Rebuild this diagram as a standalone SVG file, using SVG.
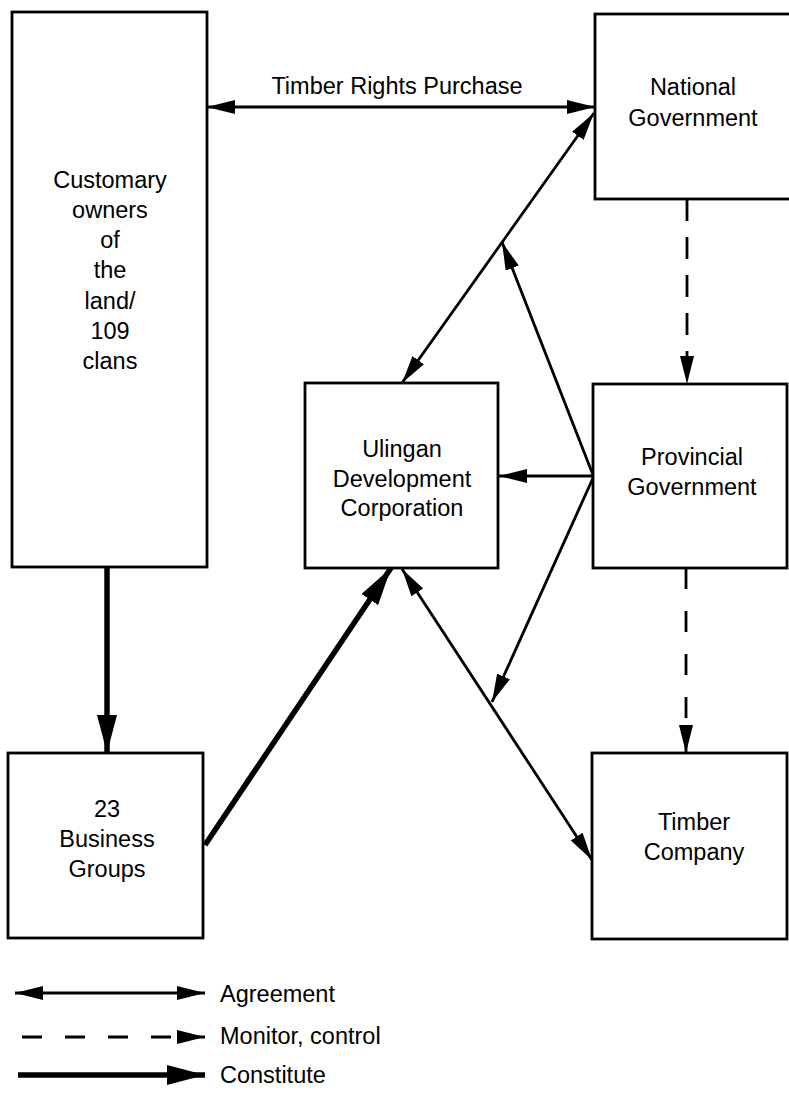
<svg xmlns="http://www.w3.org/2000/svg" width="789" height="1104" viewBox="0 0 789 1104">
<style>
  .box { fill: #fff; stroke: #000; stroke-width: 2.8; }
  .t { font-family: "Liberation Sans", Arial, Helvetica, sans-serif; font-size: 23.5px; fill: #000; text-anchor: middle; }
  .lt { font-family: "Liberation Sans", Arial, Helvetica, sans-serif; font-size: 23.5px; fill: #000; }
  .agr { stroke: #000; stroke-width: 2.8; fill: none; marker-end: url(#ah); }
  .both { marker-start: url(#ah); }
  .mon { stroke: #000; stroke-width: 2.8; fill: none; marker-end: url(#ah); }
  .con { stroke: #000; stroke-width: 5.5; fill: none; marker-end: url(#ahBig); }
</style>
<defs>
  <marker id="ah" markerUnits="userSpaceOnUse" markerWidth="29" markerHeight="15" refX="28" refY="7" orient="auto-start-reverse" viewBox="0 0 29 15">
    <path d="M0,0 L28,7 L0,14 Z" fill="#000"/>
  </marker>
  <marker id="ahBig" markerUnits="userSpaceOnUse" markerWidth="39" markerHeight="21" refX="38" refY="10" orient="auto-start-reverse" viewBox="0 0 39 21">
    <path d="M0,0 L38,10 L0,20 Z" fill="#000"/>
  </marker>
</defs>

<g id="customary">
  <rect class="box" x="12" y="12" width="195" height="555"/>
  <text class="t" x="110" y="188">Customary</text>
  <text class="t" x="110" y="218">owners</text>
  <text class="t" x="110" y="248">of</text>
  <text class="t" x="110" y="278">the</text>
  <text class="t" x="110" y="309">land/</text>
  <text class="t" x="110" y="339">109</text>
  <text class="t" x="110" y="369">clans</text>
</g>

<g id="national">
  <rect class="box" x="595" y="14" width="200" height="185"/>
  <text class="t" x="693" y="95">National</text>
  <text class="t" x="693" y="126">Government</text>
</g>

<g id="ulingan">
  <rect class="box" x="305" y="383" width="193" height="185"/>
  <text class="t" x="402" y="457">Ulingan</text>
  <text class="t" x="402" y="487">Development</text>
  <text class="t" x="402" y="516">Corporation</text>
</g>

<g id="provincial">
  <rect class="box" x="593" y="384" width="194" height="184"/>
  <text class="t" x="692" y="465">Provincial</text>
  <text class="t" x="692" y="495">Government</text>
</g>

<g id="business">
  <rect class="box" x="8" y="753" width="195" height="185"/>
  <text class="t" x="107" y="817">23</text>
  <text class="t" x="107" y="847">Business</text>
  <text class="t" x="107" y="877">Groups</text>
</g>

<g id="timber">
  <rect class="box" x="592" y="753" width="195" height="186"/>
  <text class="t" x="694" y="830">Timber</text>
  <text class="t" x="694" y="860">Company</text>
</g>

<g id="connectors">
  <line class="agr both" x1="207" y1="107" x2="595" y2="107"/>
  <text class="t" x="397" y="94">Timber Rights Purchase</text>
  <line class="agr both" x1="594" y1="113" x2="402" y2="383"/>
  <line class="agr" x1="593" y1="475" x2="502" y2="242"/>
  <line class="agr" x1="593" y1="476" x2="499" y2="476"/>
  <line class="agr" x1="593" y1="478" x2="492" y2="702"/>
  <line class="agr both" x1="402" y1="569" x2="592" y2="860"/>
  <line class="con" x1="107" y1="567" x2="107" y2="753"/>
  <line class="con" x1="205" y1="845" x2="391" y2="568"/>
  <line class="mon" x1="687" y1="199" x2="687" y2="384" stroke-dasharray="22 16"/>
  <line class="mon" x1="686" y1="568" x2="686" y2="753" stroke-dasharray="21 22"/>
</g>

<g id="legend">
  <line class="agr both" x1="15" y1="993" x2="205" y2="993"/>
  <text class="lt" x="220" y="1002">Agreement</text>
  <line class="mon" x1="22" y1="1037" x2="205" y2="1037" stroke-dasharray="20 23"/>
  <text class="lt" x="220" y="1044">Monitor, control</text>
  <line class="con" x1="18" y1="1075" x2="205" y2="1075"/>
  <text class="lt" x="220" y="1083">Constitute</text>
</g>
</svg>
